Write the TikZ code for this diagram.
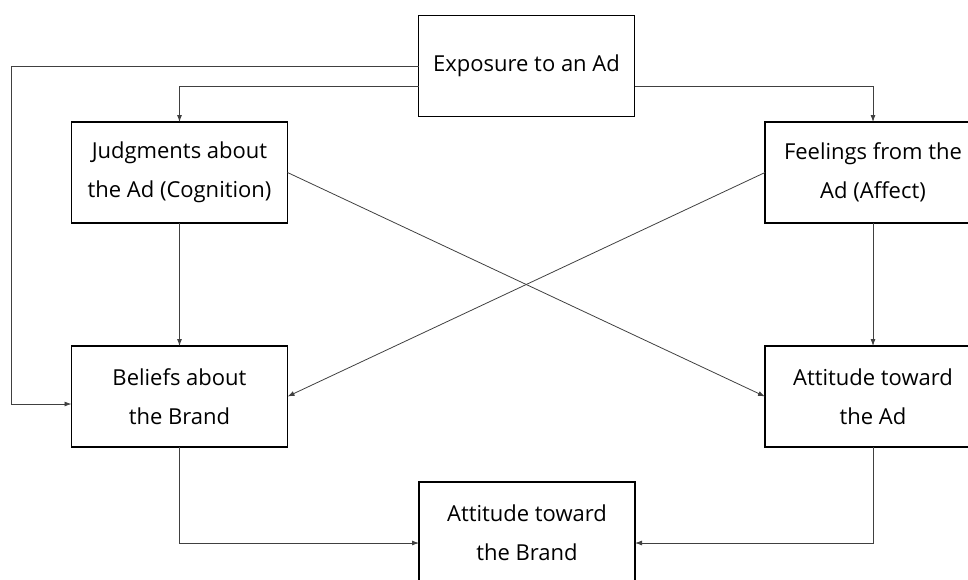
\documentclass[tikz,border=0pt]{standalone}
\usepackage{fontspec}
\setmainfont{Open Sans}
\usetikzlibrary{arrows.meta}
\begin{document}
\begin{tikzpicture}[x=1pt,y=-1pt,
  box/.style={draw=black,line width=1.3pt,rectangle,minimum width=216pt,
    minimum height=101pt,inner sep=0pt,outer sep=0pt,align=center,
    font=\fontsize{22}{39}\selectfont,text=black},
  arr/.style={draw=black!75,line width=0.8pt,
    -{Latex[length=7pt,width=5pt]}}]
\useasboundingbox (0,0) rectangle (968,579);

% boxes
\node[box] (expo)    at (526.5,66)    {Exposure to an Ad};
\node[box] (judg)    at (179.5,172.5) {Judgments about\\the Ad (Cognition)};
\node[box] (feel)    at (873,172.5)   {Feelings from the\\Ad (Affect)};
\node[box] (beliefs) at (179.5,396.5) {Beliefs about\\the Brand};
\node[box] (attad)   at (873,396.5)   {Attitude toward\\the Ad};
\node[box] (brand)   at (527,532.5)   {Attitude toward\\the Brand};

% connectors
\coordinate (lft) at (11,66);
\draw[arr] (expo.west) -- (lft) |- ([yshift=-7.5pt]beliefs.west);
\draw[arr] ([yshift=-20pt]expo.west) -| (judg.north);
\draw[arr] ([yshift=-20pt]expo.east) -| (feel.north);
\draw[arr] (judg.south) -- (beliefs.north);
\draw[arr] (feel.south) -- (attad.north);
\draw[arr] (judg.east) -- (attad.west);
\draw[arr] (feel.west) -- (beliefs.east);
\draw[arr] (beliefs.south) |- ([yshift=-10.5pt]brand.west);
\draw[arr] (attad.south) |- ([yshift=-10.5pt]brand.east);
\end{tikzpicture}
\end{document}
